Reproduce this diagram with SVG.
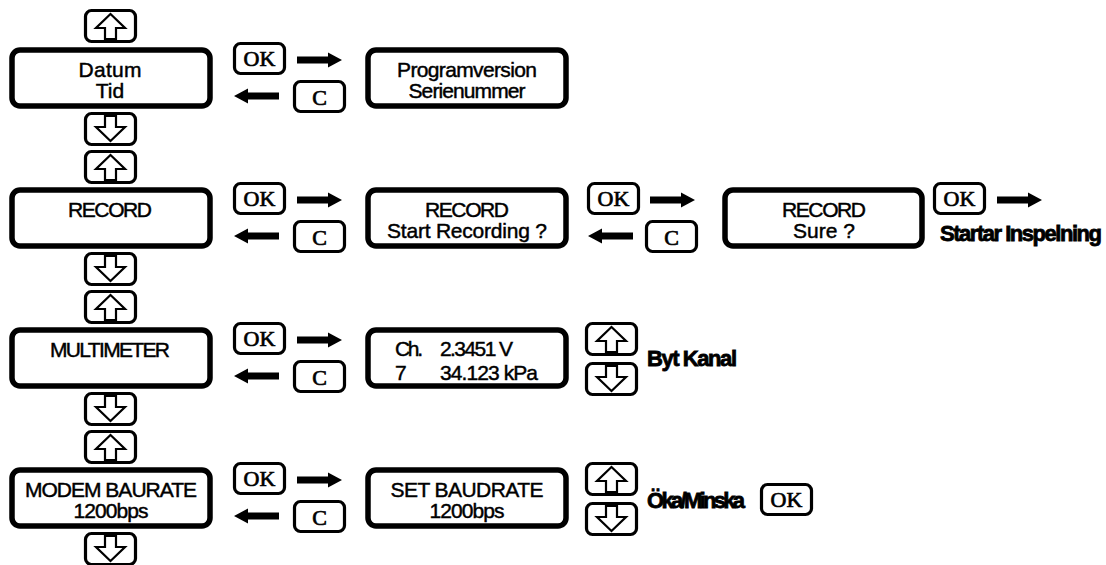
<svg xmlns="http://www.w3.org/2000/svg" xmlns:xlink="http://www.w3.org/1999/xlink" width="1106" height="565" viewBox="0 0 1106 565">
<style>
.box{fill:#fff;stroke:#000;stroke-width:5.5}
.key{fill:#fff;stroke:#000;stroke-width:3.2}
.gl{fill:#fff;stroke:#000;stroke-width:2.2;stroke-linejoin:miter}
.t{font-family:"Liberation Sans",Arial,sans-serif;font-size:21px;text-anchor:middle;fill:#000;stroke:#000;stroke-width:0.45}
.tl{font-family:"Liberation Sans",Arial,sans-serif;font-size:21px;fill:#000;stroke:#000;stroke-width:0.45}
.k{font-family:"Liberation Serif","Times New Roman",serif;font-size:22px;text-anchor:middle;fill:#000;stroke:#000;stroke-width:0.7}
.b{font-family:"Liberation Sans",Arial,sans-serif;font-size:22px;font-weight:bold;fill:#000;stroke:#000;stroke-width:0.8}
.arr{fill:#000}
</style>
<defs>
<g id="kUp"><rect x="1.5" y="1.5" width="50" height="31" rx="6" class="key"/><polygon class="gl" points="26.5,5 41,19 32,19 32,30 21,30 21,19 12,19"/></g>
<g id="kDn"><rect x="1.5" y="1.5" width="50" height="31" rx="6" class="key"/><polygon class="gl" points="26.5,29 41,15 32,15 32,4 21,4 21,15 12,15"/></g>
<g id="kOK"><rect x="1.5" y="1.5" width="50" height="30" rx="6" class="key"/><text x="26.5" y="24" class="k">OK</text></g>
<g id="kC"><rect x="1.5" y="1.5" width="50" height="30" rx="6" class="key"/><text x="26.5" y="25" class="k">C</text></g>
<polygon id="aR" class="arr" points="0,-3.5 31,-3.5 31,-7.5 45,0 31,7.5 31,3.5 0,3.5"/>
<polygon id="aL" class="arr" points="46,-3.5 15,-3.5 15,-7.5 1,0 15,7.5 15,3.5 46,3.5"/>
</defs>

<g id="connectors">
<use xlink:href="#aR" href="#aR" x="297" y="60"/>
<use xlink:href="#aL" href="#aL" x="233" y="96"/>
<use xlink:href="#aR" href="#aR" x="297" y="200"/>
<use xlink:href="#aL" href="#aL" x="233" y="236"/>
<use xlink:href="#aR" href="#aR" x="650" y="200"/>
<use xlink:href="#aL" href="#aL" x="587" y="236"/>
<use xlink:href="#aR" href="#aR" x="997" y="200"/>
<use xlink:href="#aR" href="#aR" x="297" y="340"/>
<use xlink:href="#aL" href="#aL" x="233" y="376"/>
<use xlink:href="#aR" href="#aR" x="297" y="480"/>
<use xlink:href="#aL" href="#aL" x="233" y="516"/>
</g>

<!-- Row 1 -->
<g id="row1-up"><use xlink:href="#kUp" href="#kUp" x="84" y="9"/></g>
<g id="datum"><rect x="12" y="50" width="198" height="56" rx="8" class="box"/>
<text x="110" y="77" class="t" textLength="63">Datum</text><text x="110" y="98" class="t">Tid</text></g>
<g id="row1-down"><use xlink:href="#kDn" href="#kDn" x="84" y="112"/></g>
<g id="row1-ok"><use xlink:href="#kOK" href="#kOK" x="233" y="42"/></g>
<g id="row1-c"><use xlink:href="#kC" href="#kC" x="293" y="80"/></g>
<g id="programversion"><rect x="368" y="50" width="198" height="56" rx="8" class="box"/>
<text x="467" y="77" class="t" textLength="140">Programversion</text><text x="467" y="98" class="t" textLength="117">Serienummer</text></g>

<!-- Row 2 -->
<g id="row2-up"><use xlink:href="#kUp" href="#kUp" x="84" y="150"/></g>
<g id="record"><rect x="12" y="190" width="198" height="56" rx="8" class="box"/>
<text x="110" y="217" class="t" textLength="84">RECORD</text></g>
<g id="row2-down"><use xlink:href="#kDn" href="#kDn" x="84" y="252"/></g>
<g id="row2-ok"><use xlink:href="#kOK" href="#kOK" x="233" y="182"/></g>
<g id="row2-c"><use xlink:href="#kC" href="#kC" x="293" y="220"/></g>
<g id="record-start"><rect x="368" y="190" width="198" height="56" rx="8" class="box"/>
<text x="467" y="217" class="t" textLength="84">RECORD</text><text x="467" y="238" class="t" textLength="160">Start Recording ?</text></g>
<g id="row2-ok2"><use xlink:href="#kOK" href="#kOK" x="587" y="182"/></g>
<g id="row2-c2"><use xlink:href="#kC" href="#kC" x="645" y="220"/></g>
<g id="record-sure"><rect x="725" y="190" width="197" height="56" rx="8" class="box"/>
<text x="824" y="217" class="t" textLength="84">RECORD</text><text x="824" y="238" class="t">Sure ?</text></g>
<g id="row2-ok3"><use xlink:href="#kOK" href="#kOK" x="933" y="182"/></g>
<g id="startar"><text x="940" y="241" class="b" textLength="162">Startar Inspelning</text></g>

<!-- Row 3 -->
<g id="row3-up"><use xlink:href="#kUp" href="#kUp" x="84" y="290"/></g>
<g id="multimeter"><rect x="12" y="330" width="198" height="56" rx="8" class="box"/>
<text x="110" y="357" class="t" textLength="120">MULTIMETER</text></g>
<g id="row3-down"><use xlink:href="#kDn" href="#kDn" x="84" y="392"/></g>
<g id="row3-ok"><use xlink:href="#kOK" href="#kOK" x="233" y="322"/></g>
<g id="row3-c"><use xlink:href="#kC" href="#kC" x="293" y="360"/></g>
<g id="channel"><rect x="368" y="330" width="198" height="56" rx="8" class="box"/>
<text x="395" y="356" class="tl" textLength="28">Ch.</text><text x="440" y="356" class="tl" textLength="73">2.3451 V</text>
<text x="395" y="380" class="tl">7</text><text x="440" y="380" class="tl" textLength="98">34.123 kPa</text></g>
<g id="row3-up2"><use xlink:href="#kUp" href="#kUp" x="585" y="322"/></g>
<g id="row3-down2"><use xlink:href="#kDn" href="#kDn" x="585" y="362"/></g>
<g id="bytkanal"><text x="647" y="366" class="b" textLength="90">Byt Kanal</text></g>

<!-- Row 4 -->
<g id="row4-up"><use xlink:href="#kUp" href="#kUp" x="84" y="430"/></g>
<g id="modem"><rect x="12" y="470" width="198" height="56" rx="8" class="box"/>
<text x="111" y="497" class="t" textLength="172">MODEM BAURATE</text><text x="111" y="518" class="t" textLength="75">1200bps</text></g>
<g id="row4-down"><use xlink:href="#kDn" href="#kDn" x="84" y="532"/></g>
<g id="row4-ok"><use xlink:href="#kOK" href="#kOK" x="233" y="462"/></g>
<g id="row4-c"><use xlink:href="#kC" href="#kC" x="293" y="500"/></g>
<g id="setbaud"><rect x="368" y="470" width="198" height="56" rx="8" class="box"/>
<text x="467" y="497" class="t" textLength="153">SET BAUDRATE</text><text x="467" y="518" class="t" textLength="75">1200bps</text></g>
<g id="row4-up2"><use xlink:href="#kUp" href="#kUp" x="585" y="462"/></g>
<g id="row4-down2"><use xlink:href="#kDn" href="#kDn" x="585" y="502"/></g>
<g id="okaminska"><text x="647" y="508" class="b" textLength="98">Öka/Minska</text></g>
<g id="row4-ok2"><use xlink:href="#kOK" href="#kOK" x="760" y="483"/></g>
</svg>
